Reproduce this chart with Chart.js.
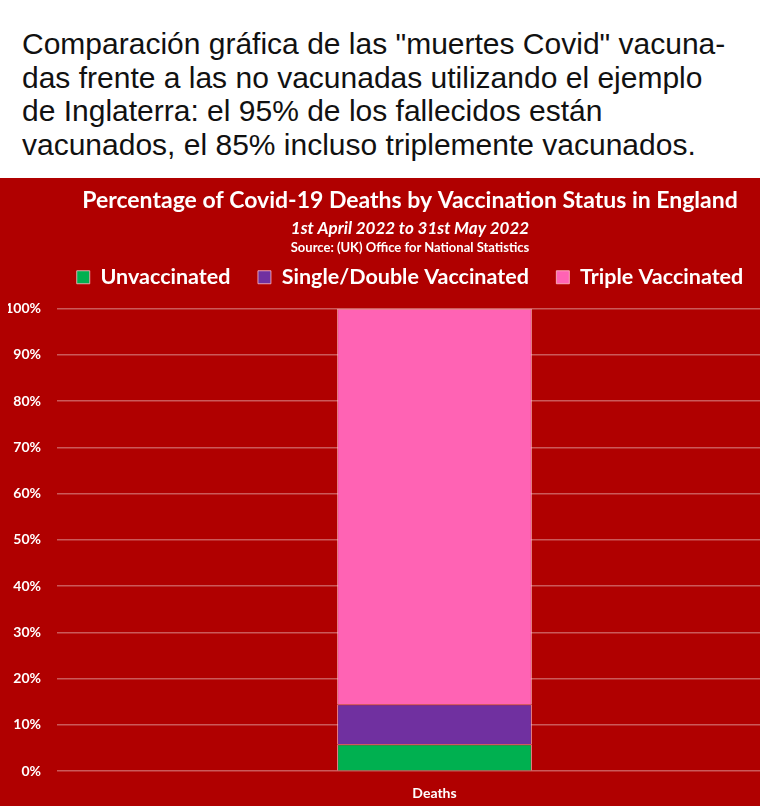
<!DOCTYPE html>
<html>
<head>
<meta charset="utf-8">
<script src="https://cdn.jsdelivr.net/npm/chart.js@4"></script>
<style>
    html, body { margin: 0; padding: 0; background: #fff; width: 760px; height: 806px; overflow: hidden; position: relative; }
    #cabecalho {
        position: absolute; left: 22px; top: 27px;
        font-family: 'Liberation Sans', Helvetica, Arial, sans-serif;
        font-size: 30px; line-height: 33.5px; color: #111; white-space: nowrap;
    }
    #painel {
        position: absolute; left: 0; top: 178px; width: 832px; height: 637px;
        background: #b00000;
    }
    #fonte {
        position: absolute; left: 8px; width: 804px; top: 61px; text-align: center;
        font-family: Lato, sans-serif;
        font-weight: bold; font-size: 13px; color: #fff;
    }
</style>
</head>
<body>
<div id="cabecalho">Comparación gráfica de las "muertes Covid" vacuna-<br>das frente a las no vacunadas utilizando el ejemplo<br>de Inglaterra: el 95% de los fallecidos están<br>vacunados, el 85% incluso triplemente vacunados.</div>
<div id="painel">
    <canvas id="graficoObitos"></canvas>
    <div id="fonte">Source: (UK) Office for National Statistics</div>
</div>
<script>
const categorias = ['Deaths'];
const naoVacinados = [5.8];
const simplesDupla = [8.7];
const tripla = [85.5];
const ticksY = [0, 10, 20, 30, 40, 50, 60, 70, 80, 90, 100];

const fonteNome = "Lato, sans-serif";
const bordaBarra = 'rgba(255, 190, 200, 0.8)';

window.onload = function () {
    const ctx = document.getElementById('graficoObitos').getContext('2d');
    const grafico = new Chart(ctx, {
        type: 'bar',
        data: {
            labels: categorias,
            datasets: [{
                label: 'Unvaccinated',
                data: naoVacinados,
                backgroundColor: '#00b050',
                borderColor: bordaBarra,
                borderWidth: 1
            },
            {
                label: 'Single/Double Vaccinated',
                data: simplesDupla,
                backgroundColor: '#7030a0',
                borderColor: bordaBarra,
                borderWidth: 1
            },
            {
                label: 'Triple Vaccinated',
                data: tripla,
                backgroundColor: '#ff63b4',
                borderColor: bordaBarra,
                borderWidth: 1
            }]
        },
        options: {
            responsive: true,
            maintainAspectRatio: false,
            animation: false,
            layout: {
                padding: { left: 8, right: 20, top: 9, bottom: 0 }
            },
            datasets: {
                bar: {
                    categoryPercentage: 1,
                    barPercentage: 0.258
                }
            },
            scales: {
                x: {
                    stacked: true,
                    grid: { display: false, drawTicks: false },
                    border: { display: false },
                    ticks: {
                        color: '#fff',
                        padding: 13.5,
                        font: { family: fonteNome, weight: 'bold', size: 14 }
                    }
                },
                y: {
                    stacked: true,
                    min: 0,
                    max: 102.3,   // um pouco de folga acima dos 100%
                    afterBuildTicks: function (eixo) {
                        eixo.ticks = ticksY.map(function (v) { return { value: v }; });
                    },
                    afterFit: function (eixo) {
                        eixo.width = 49;
                    },
                    grid: {
                        color: 'rgba(255, 255, 255, 0.35)',
                        lineWidth: 1.5,
                        drawTicks: false
                    },
                    border: { display: false },
                    ticks: {
                        color: '#fff',
                        padding: 16,
                        font: { family: fonteNome, weight: 'bold', size: 14 },
                        callback: function (value) {
                            return value + '%';
                        }
                    }
                }
            },
            plugins: {
                legend: {
                    position: 'top',
                    labels: {
                        color: '#fff',
                        boxWidth: 13,
                        boxHeight: 13,
                        padding: 27.5,
                        font: { family: fonteNome, weight: 'bold', size: 21.5 }
                    }
                },
                title: {
                    display: true,
                    text: 'Percentage of Covid-19 Deaths by Vaccination Status in England',
                    color: '#fff',
                    padding: { top: 0, bottom: 4 },
                    font: { family: fonteNome, weight: 'bold', size: 23 }
                },
                subtitle: {
                    display: true,
                    text: '1st April 2022 to 31st May 2022',
                    color: '#fff',
                    padding: { top: 0, bottom: 0 },
                    font: { family: fonteNome, weight: 'bold', style: 'italic', size: 17 }
                },
                tooltip: { enabled: false }
            }
        }
    });
};
</script>
</body>
</html>
